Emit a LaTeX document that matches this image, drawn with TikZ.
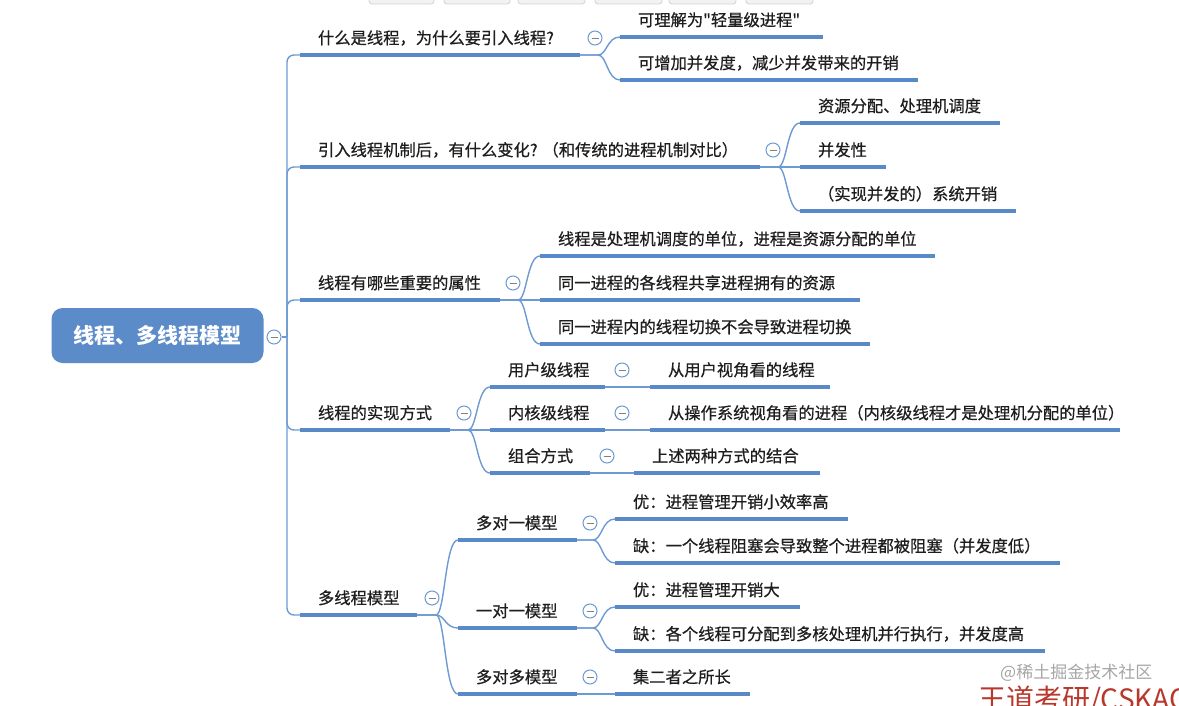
\documentclass[tikz,border=0pt]{standalone}
\usepackage{fontspec}
\newfontfamily\cjk[FakeBold=0.5]{Noto Sans CJK SC}
\newfontfamily\cjkplain{Noto Sans CJK SC}
\definecolor{ublue}{HTML}{5A89C8}
\definecolor{cblue}{HTML}{6E9AD3}
\definecolor{rootblue}{HTML}{5B8BC9}
\definecolor{txt}{HTML}{1E1E1E}
\definecolor{wmred}{HTML}{B8382C}
\newcommand\lbl[2]{\makebox[#1pt][l]{\hspace*{18pt}#2}}
\newcommand\branch[3]{\draw[conn] (#1.south east) -- (#2) .. controls +(9,0) and +(-13,0) .. (#3.south west);}
\tikzset{
  uline/.style={draw=ublue, line width=4.5pt},
  conn/.style={draw=cblue, line width=1.4pt},
  topic/.style={anchor=south west, inner sep=0pt, outer sep=0pt, text height=15pt, text depth=11pt,
    font=\cjk\fontsize{16.3}{18}\selectfont, text=txt,
    append after command={(\tikzlastnode.south west) edge[uline] (\tikzlastnode.south east)}},
  root/.style={rectangle, rounded corners=11pt, fill=rootblue, minimum width=212pt, minimum height=55pt,
    inner sep=0pt, text=white, font=\cjkplain\bfseries\fontsize{21}{24}\selectfont},
  fold/.style={circle, draw=cblue, fill=white, line width=1pt, minimum size=14pt, inner sep=0pt,
    path picture={\draw[gray, line width=0.9pt] ([xshift=-3.5pt]path picture bounding box.center) -- ([xshift=3.5pt]path picture bounding box.center);}},
  tab/.style={draw=gray!35, fill=gray!10, rounded corners=3pt, line width=0.8pt},
}
\begin{document}
\begin{tikzpicture}[x=1pt, y=-1pt]
\useasboundingbox (0,0) rectangle (1179,706);
\clip (0,0) rectangle (1179,706);
\fill[white] (0,0) rectangle (1179,706);
% top tabs
\foreach \a/\b in {369/434, 444/510, 518/585, 595/662, 669/736, 746/813}
  \draw[tab] (\a,-10) rectangle (\b,4);
% root
\node[root] (root) at (157.5,335.5) {线程、多线程模型};
% level 1
\node[topic] (a) at (300,55) {\lbl{280}{什么是线程，为什么要引入线程?}};
\node[topic] (b) at (300,167) {\lbl{460}{引入线程机制后，有什么变化? （和传统的进程机制对比）}};
\node[topic] (c) at (300,300) {\lbl{200}{线程有哪些重要的属性}};
\node[topic] (d) at (300,430) {\lbl{150}{线程的实现方式}};
\node[topic] (e) at (300,615) {\lbl{117}{多线程模型}};
% level 2
\node[topic] (a1) at (620,37) {\lbl{203}{可理解为"轻量级进程"}};
\node[topic] (a2) at (620,80) {\lbl{298}{可增加并发度，减少并发带来的开销}};
\node[topic] (b1) at (800,123) {\lbl{200}{资源分配、处理机调度}};
\node[topic] (b2) at (800,167) {\lbl{86}{并发性}};
\node[topic] (b3) at (800,211) {\lbl{216}{（实现并发的）系统开销}};
\node[topic] (c1) at (540,256) {\lbl{395}{线程是处理机调度的单位，进程是资源分配的单位}};
\node[topic] (c2) at (540,300) {\lbl{320}{同一进程的各线程共享进程拥有的资源}};
\node[topic] (c3) at (540,344) {\lbl{330}{同一进程内的线程切换不会导致进程切换}};
\node[topic] (d1) at (490,387) {\lbl{115}{用户级线程}};
\node[topic] (d2) at (490,430) {\lbl{115}{内核级线程}};
\node[topic] (d3) at (490,473) {\lbl{100}{组合方式}};
\node[topic] (e1) at (458,540) {\lbl{119}{多对一模型}};
\node[topic] (e2) at (458,628) {\lbl{119}{一对一模型}};
\node[topic] (e3) at (458,694) {\lbl{119}{多对多模型}};
% level 3
\node[topic] (d1a) at (650,387) {\lbl{180}{从用户视角看的线程}};
\node[topic] (d2a) at (650,430) {\lbl{470}{从操作系统视角看的进程（内核级线程才是处理机分配的单位）}};
\node[topic] (d3a) at (634,473) {\lbl{186}{上述两种方式的结合}};
\node[topic] (e1a) at (615,519) {\lbl{233}{优：进程管理开销小效率高}};
\node[topic] (e1b) at (615,563) {\lbl{445}{缺：一个线程阻塞会导致整个进程都被阻塞（并发度低）}};
\node[topic] (e2a) at (615,607) {\lbl{185}{优：进程管理开销大}};
\node[topic] (e2b) at (615,651) {\lbl{430}{缺：各个线程可分配到多核处理机并行执行，并发度高}};
\node[topic] (e3a) at (615,694) {\lbl{135}{集二者之所长}};
% branch points
\coordinate (tj) at (287,337);
\coordinate (ab) at (598,55);
\coordinate (bb) at (778,167);
\coordinate (cb) at (518,300);
\coordinate (db) at (468,430);
\coordinate (eb) at (436,615);
\coordinate (e1x) at (593,540);
\coordinate (e2x) at (593,628);
% trunk
\node[fold] (rootfold) at (274,337) {};
\draw[conn] (rootfold.east) -- (tj);
\foreach \n in {a,b,c,d,e}
  \draw[conn, rounded corners=7pt] (tj) |- (\n.south west);
% brackets
\branch{a}{ab}{a1}\branch{a}{ab}{a2}
\branch{b}{bb}{b1}\branch{b}{bb}{b2}\branch{b}{bb}{b3}
\branch{c}{cb}{c1}\branch{c}{cb}{c2}\branch{c}{cb}{c3}
\branch{d}{db}{d1}\branch{d}{db}{d2}\branch{d}{db}{d3}
\branch{e}{eb}{e1}\branch{e}{eb}{e2}\branch{e}{eb}{e3}
\branch{e1}{e1x}{e1a}\branch{e1}{e1x}{e1b}
\branch{e2}{e2x}{e2a}\branch{e2}{e2x}{e2b}
\draw[conn] (d1.south east) -- (d1a.south west);
\draw[conn] (d2.south east) -- (d2a.south west);
\draw[conn] (d3.south east) -- (d3a.south west);
\draw[conn] (e3.south east) -- (e3a.south west);
% fold icons
\node[fold] (fa) at (595,38) {};
\node[fold] (fb) at (773,150) {};
\node[fold] (fc) at (513,283) {};
\node[fold] (fd) at (464,413) {};
\node[fold] (fe) at (432,598) {};
\node[fold] (fd1) at (622,370) {};
\node[fold] (fd2) at (622,413) {};
\node[fold] (fd3) at (607,456) {};
\node[fold] (fe1) at (590,523) {};
\node[fold] (fe2) at (590,611) {};
\node[fold] (fe3) at (590,677) {};
% watermarks
\node[anchor=base west, inner sep=0pt, text=gray!70, font=\cjkplain\fontsize{17}{19}\selectfont] (wm1) at (1000,678) {@稀土掘金技术社区};
\node[anchor=base west, inner sep=0pt, text=wmred, font=\cjkplain\fontsize{28}{30}\selectfont] (wm2) at (978,709) {王道考研/CSKAOYAN};
\end{tikzpicture}
\end{document}
